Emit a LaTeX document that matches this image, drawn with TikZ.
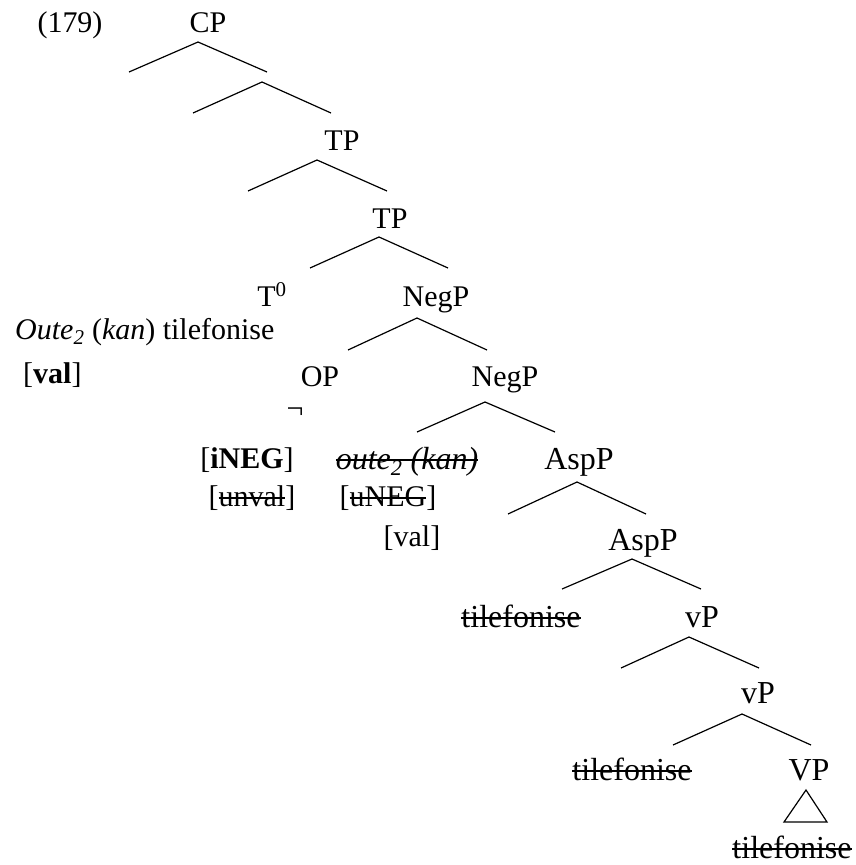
\documentclass[tikz,border=0pt]{standalone}
\usepackage{fontspec}
\setmainfont{Liberation Serif}
\newcommand\strk[1]{\begingroup\setbox0\hbox{#1}\rlap{\rule[0.24em]{\wd0}{0.06em}}\box0\endgroup}
\begin{document}
\begin{tikzpicture}[x=1pt,y=-1pt,
  lab/.style={inner sep=0pt,anchor=base,font=\fontsize{30}{36}\selectfont},
  lablow/.style={inner sep=0pt,anchor=base,font=\fontsize{32}{38}\selectfont},
  branch/.style={line width=1.2pt},
  tri/.style={line width=1.2pt}]
\useasboundingbox (0,0) rectangle (856,865);
% labels
\node[lab] (ex) at (70,32) {(179)};
\node[lab] (cp) at (208,32) {CP};
\node[lab] (tp1) at (342,150) {TP};
\node[lab] (tp2) at (390,228) {TP};
\node[lab] (t0) at (272,306) {T\textsuperscript{0}};
\node[lab] (negp1) at (436,306) {NegP};
\node[lab,anchor=base west] (oute) at (15,339) {\textit{Oute\textsubscript{2}} (\textit{kan}) tilefonise};
\node[lab,anchor=base west] (val1) at (23,383) {[\textbf{val}]};
\node[lab] (op) at (320,386) {OP};
\node[lab] (negp2) at (505,386) {NegP};
\node[lab] (neg) at (295,418) {¬};
\node[lab] (ineg) at (247,468) {[\textbf{iNEG}]};
\node[lablow] (outek) at (407,469) {\strk{\textit{oute\textsubscript{2} (kan)}}};
\node[lablow] (asp1) at (579,469) {AspP};
\node[lab] (unval) at (252,506) {[\strk{unval}]};
\node[lab] (uneg) at (388,506) {[\strk{uNEG}]};
\node[lab] (val2) at (412,546) {[val]};
\node[lablow] (asp2) at (643,550) {AspP};
\node[lablow] (tel1) at (521,627) {\strk{tilefonise}};
\node[lablow] (vp1) at (702,627) {vP};
\node[lablow] (vp2) at (758,703) {vP};
\node[lablow] (tel2) at (632,780) {\strk{tilefonise}};
\node[lablow] (bigvp) at (809,780) {VP};
\node[lablow] (tel3) at (792,858) {\strk{tilefonise}};
% branch coordinates
\coordinate (a1) at (198,42);  \coordinate (l1) at (129,72);  \coordinate (r1) at (267,72);
\coordinate (a2) at (262,82);  \coordinate (l2) at (193,113); \coordinate (r2) at (331,113);
\coordinate (a3) at (317,160); \coordinate (l3) at (248,191); \coordinate (r3) at (387,191);
\coordinate (a4) at (379,237); \coordinate (l4) at (310,268); \coordinate (r4) at (448,268);
\coordinate (a5) at (417,318); \coordinate (l5) at (348,350); \coordinate (r5) at (487,350);
\coordinate (a6) at (485,402); \coordinate (l6) at (417,432); \coordinate (r6) at (555,432);
\coordinate (a7) at (577,482); \coordinate (l7) at (508,514); \coordinate (r7) at (646,514);
\coordinate (a8) at (632,559); \coordinate (l8) at (562,589); \coordinate (r8) at (701,589);
\coordinate (a9) at (689,637); \coordinate (l9) at (621,668); \coordinate (r9) at (759,668);
\coordinate (a10) at (742,714); \coordinate (l10) at (673,745); \coordinate (r10) at (811,745);
\foreach \i in {1,...,10}{\draw[branch] (l\i) -- (a\i) -- (r\i);}
% triangle
\coordinate (ta) at (806,790); \coordinate (tl) at (784,822); \coordinate (tr) at (827,822);
\draw[tri] (ta) -- (tl) -- (tr) -- cycle;
\end{tikzpicture}
\end{document}
